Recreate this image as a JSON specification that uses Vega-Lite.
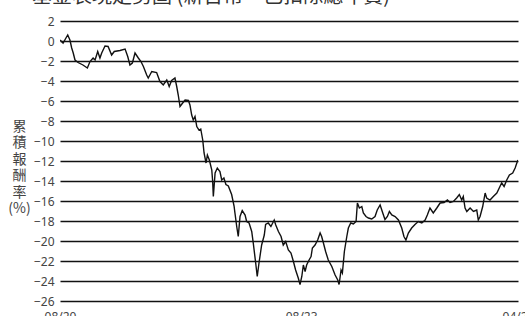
{
  "$schema": "https://vega.github.io/schema/vega-lite/v6.json",
  "autosize": {"type": "none"},
  "width": 458,
  "height": 280,
  "padding": {"left": 60, "top": 21, "right": 7, "bottom": 15},
  "background": "white",
  "title": {
    "text": "基金表現走勢圖 (新台幣，已扣除總年費)",
    "anchor": "start",
    "frame": "group",
    "dx": -28,
    "offset": 8,
    "font": "Noto Sans CJK TC",
    "fontSize": 20,
    "fontWeight": "normal",
    "color": "#333333"
  },
  "data": {"values": [
    {"date": "2020/08/03", "value": 0.1},
    {"date": "2020/08/17", "value": -0.2},
    {"date": "2020/08/30", "value": 0.3},
    {"date": "2020/09/07", "value": 0.6},
    {"date": "2020/09/17", "value": 0.1},
    {"date": "2020/09/25", "value": -0.7},
    {"date": "2020/10/02", "value": -1.2},
    {"date": "2020/10/10", "value": -1.9},
    {"date": "2020/10/24", "value": -2.15},
    {"date": "2020/11/15", "value": -2.4},
    {"date": "2020/12/05", "value": -2.7},
    {"date": "2020/12/17", "value": -2.05},
    {"date": "2020/12/31", "value": -1.7},
    {"date": "2021/01/09", "value": -1.9},
    {"date": "2021/01/21", "value": -1.05},
    {"date": "2021/01/31", "value": -1.7},
    {"date": "2021/02/08", "value": -1.2},
    {"date": "2021/02/23", "value": -0.5},
    {"date": "2021/03/09", "value": -0.55},
    {"date": "2021/03/25", "value": -1.4},
    {"date": "2021/04/06", "value": -1.05},
    {"date": "2021/05/02", "value": -0.95},
    {"date": "2021/05/25", "value": -0.8},
    {"date": "2021/06/06", "value": -1.55},
    {"date": "2021/06/16", "value": -2.4},
    {"date": "2021/06/27", "value": -2.2},
    {"date": "2021/07/09", "value": -1.2},
    {"date": "2021/07/24", "value": -1.7},
    {"date": "2021/08/05", "value": -2.05},
    {"date": "2021/08/16", "value": -2.55},
    {"date": "2021/08/31", "value": -3.4},
    {"date": "2021/09/07", "value": -3.7},
    {"date": "2021/09/23", "value": -3.05},
    {"date": "2021/10/15", "value": -3.15},
    {"date": "2021/10/30", "value": -4.05},
    {"date": "2021/11/14", "value": -4.4},
    {"date": "2021/11/30", "value": -3.9},
    {"date": "2021/12/11", "value": -4.55},
    {"date": "2021/12/22", "value": -3.95},
    {"date": "2022/01/06", "value": -3.7},
    {"date": "2022/01/14", "value": -4.55},
    {"date": "2022/01/21", "value": -5.4},
    {"date": "2022/01/29", "value": -6.55},
    {"date": "2022/02/10", "value": -6.2},
    {"date": "2022/02/21", "value": -5.9},
    {"date": "2022/03/08", "value": -5.95},
    {"date": "2022/03/15", "value": -6.4},
    {"date": "2022/03/23", "value": -7.4},
    {"date": "2022/03/30", "value": -7.9},
    {"date": "2022/04/07", "value": -7.55},
    {"date": "2022/04/15", "value": -8.55},
    {"date": "2022/04/25", "value": -8.9},
    {"date": "2022/05/03", "value": -8.8},
    {"date": "2022/05/12", "value": -9.9},
    {"date": "2022/05/18", "value": -11.2},
    {"date": "2022/05/27", "value": -12.2},
    {"date": "2022/06/02", "value": -11.4},
    {"date": "2022/06/11", "value": -11.9},
    {"date": "2022/06/22", "value": -12.9},
    {"date": "2022/06/26", "value": -14.05},
    {"date": "2022/06/29", "value": -15.55},
    {"date": "2022/07/07", "value": -13.2},
    {"date": "2022/07/17", "value": -12.7},
    {"date": "2022/07/29", "value": -13.05},
    {"date": "2022/08/06", "value": -13.9},
    {"date": "2022/08/16", "value": -13.7},
    {"date": "2022/08/25", "value": -14.35},
    {"date": "2022/09/05", "value": -14.5},
    {"date": "2022/09/20", "value": -15.35},
    {"date": "2022/10/01", "value": -16.5},
    {"date": "2022/10/05", "value": -17.2},
    {"date": "2022/10/13", "value": -18.55},
    {"date": "2022/10/20", "value": -19.55},
    {"date": "2022/10/28", "value": -17.55},
    {"date": "2022/11/07", "value": -16.95},
    {"date": "2022/11/20", "value": -17.4},
    {"date": "2022/11/27", "value": -18.05},
    {"date": "2022/12/08", "value": -18.2},
    {"date": "2022/12/20", "value": -19.05},
    {"date": "2022/12/27", "value": -20.2},
    {"date": "2023/01/07", "value": -22.2},
    {"date": "2023/01/14", "value": -23.55},
    {"date": "2023/01/22", "value": -22.2},
    {"date": "2023/02/03", "value": -20.4},
    {"date": "2023/02/15", "value": -19.4},
    {"date": "2023/02/21", "value": -18.35},
    {"date": "2023/03/05", "value": -18.2},
    {"date": "2023/03/17", "value": -18.55},
    {"date": "2023/04/01", "value": -17.9},
    {"date": "2023/04/08", "value": -18.4},
    {"date": "2023/04/20", "value": -19.05},
    {"date": "2023/05/02", "value": -19.55},
    {"date": "2023/05/12", "value": -20.4},
    {"date": "2023/05/23", "value": -20.05},
    {"date": "2023/06/04", "value": -20.9},
    {"date": "2023/06/16", "value": -21.2},
    {"date": "2023/06/27", "value": -22.05},
    {"date": "2023/07/07", "value": -22.9},
    {"date": "2023/07/19", "value": -23.7},
    {"date": "2023/07/27", "value": -24.35},
    {"date": "2023/08/04", "value": -23.55},
    {"date": "2023/08/11", "value": -22.4},
    {"date": "2023/08/19", "value": -23.05},
    {"date": "2023/08/26", "value": -22.4},
    {"date": "2023/09/06", "value": -21.9},
    {"date": "2023/09/15", "value": -21.55},
    {"date": "2023/09/21", "value": -20.7},
    {"date": "2023/10/03", "value": -20.4},
    {"date": "2023/10/15", "value": -19.9},
    {"date": "2023/10/26", "value": -19.2},
    {"date": "2023/11/02", "value": -19.55},
    {"date": "2023/11/10", "value": -20.2},
    {"date": "2023/11/20", "value": -21.05},
    {"date": "2023/12/02", "value": -21.9},
    {"date": "2023/12/18", "value": -22.55},
    {"date": "2024/01/02", "value": -23.4},
    {"date": "2024/01/14", "value": -23.9},
    {"date": "2024/01/20", "value": -24.35},
    {"date": "2024/01/29", "value": -22.9},
    {"date": "2024/02/04", "value": -23.2},
    {"date": "2024/02/13", "value": -21.05},
    {"date": "2024/02/24", "value": -19.55},
    {"date": "2024/03/02", "value": -18.7},
    {"date": "2024/03/13", "value": -18.2},
    {"date": "2024/03/25", "value": -18.3},
    {"date": "2024/04/06", "value": -18.05},
    {"date": "2024/04/12", "value": -16.2},
    {"date": "2024/04/21", "value": -16.7},
    {"date": "2024/05/02", "value": -16.55},
    {"date": "2024/05/09", "value": -17.2},
    {"date": "2024/05/21", "value": -17.55},
    {"date": "2024/06/01", "value": -17.7},
    {"date": "2024/06/16", "value": -17.8},
    {"date": "2024/07/01", "value": -17.55},
    {"date": "2024/07/11", "value": -16.9},
    {"date": "2024/07/24", "value": -16.4},
    {"date": "2024/08/05", "value": -17.2},
    {"date": "2024/08/15", "value": -17.85},
    {"date": "2024/08/26", "value": -17.55},
    {"date": "2024/09/04", "value": -17.05},
    {"date": "2024/09/15", "value": -17.4},
    {"date": "2024/09/30", "value": -17.55},
    {"date": "2024/10/15", "value": -17.9},
    {"date": "2024/10/30", "value": -18.7},
    {"date": "2024/11/09", "value": -19.55},
    {"date": "2024/11/18", "value": -19.9},
    {"date": "2024/11/29", "value": -19.2},
    {"date": "2024/12/14", "value": -18.7},
    {"date": "2024/12/29", "value": -18.35},
    {"date": "2025/01/13", "value": -18.05},
    {"date": "2025/01/29", "value": -18.2},
    {"date": "2025/02/13", "value": -17.9},
    {"date": "2025/02/23", "value": -17.4},
    {"date": "2025/03/07", "value": -16.7},
    {"date": "2025/03/22", "value": -17.2},
    {"date": "2025/04/07", "value": -16.7},
    {"date": "2025/04/22", "value": -16.2},
    {"date": "2025/05/10", "value": -16.15},
    {"date": "2025/05/25", "value": -15.9},
    {"date": "2025/06/06", "value": -16.15},
    {"date": "2025/06/21", "value": -16.05},
    {"date": "2025/07/06", "value": -15.7},
    {"date": "2025/07/18", "value": -15.35},
    {"date": "2025/07/29", "value": -15.9},
    {"date": "2025/08/05", "value": -15.55},
    {"date": "2025/08/13", "value": -16.7},
    {"date": "2025/08/21", "value": -17.05},
    {"date": "2025/09/05", "value": -16.7},
    {"date": "2025/09/20", "value": -17.05},
    {"date": "2025/10/05", "value": -16.9},
    {"date": "2025/10/12", "value": -17.9},
    {"date": "2025/10/20", "value": -17.55},
    {"date": "2025/11/01", "value": -16.55},
    {"date": "2025/11/12", "value": -15.2},
    {"date": "2025/11/19", "value": -15.7},
    {"date": "2025/12/04", "value": -15.9},
    {"date": "2025/12/19", "value": -15.55},
    {"date": "2026/01/04", "value": -15.2},
    {"date": "2026/01/15", "value": -14.7},
    {"date": "2026/01/26", "value": -14.2},
    {"date": "2026/02/06", "value": -14.55},
    {"date": "2026/02/18", "value": -13.9},
    {"date": "2026/03/02", "value": -13.4},
    {"date": "2026/03/17", "value": -13.2},
    {"date": "2026/03/28", "value": -12.7},
    {"date": "2026/04/07", "value": -12.05},
    {"date": "2026/04/10", "value": -11.9}
  ]},
  "mark": {"type": "line", "color": "#111111", "strokeWidth": 1.4, "clip": true},
  "encoding": {
    "x": {
      "field": "date",
      "type": "temporal",
      "scale": {"domain": ["2020/08/03", "2026/04/10"], "nice": false},
      "axis": {
        "title": null,
        "format": "%m/%y",
        "values": ["2020/08/03", "2023/08/01", "2026/04/10"],
        "grid": false,
        "domain": false,
        "ticks": false,
        "labelPadding": 10,
        "labelFont": "Noto Sans",
        "labelFontSize": 12,
        "labelColor": "#444444",
        "labelFlush": false,
        "labelOverlap": false
      }
    },
    "y": {
      "field": "value",
      "type": "quantitative",
      "scale": {"domain": [-26, 2], "nice": false, "zero": false},
      "axis": {
        "values": [2, 0, -2, -4, -6, -8, -10, -12, -14, -16, -18, -20, -22, -24, -26],
        "grid": true,
        "gridColor": "#111111",
        "gridWidth": 1.5,
        "gridOpacity": 1,
        "domain": false,
        "ticks": false,
        "labelPadding": 6,
        "labelFont": "Noto Sans",
        "labelFontSize": 12,
        "labelColor": "#444444",
        "title": ["累", "積", "報", "酬", "率", "(%)"],
        "titleFont": "Noto Sans CJK TC",
        "titleFontSize": 14,
        "titleFontWeight": "normal",
        "titleColor": "#444444",
        "titleAngle": 0,
        "titleAlign": "center",
        "titleBaseline": "top",
        "titleLineHeight": 16.5,
        "titleX": -41,
        "titleY": 98
      }
    }
  },
  "config": {"view": {"stroke": null}}
}
